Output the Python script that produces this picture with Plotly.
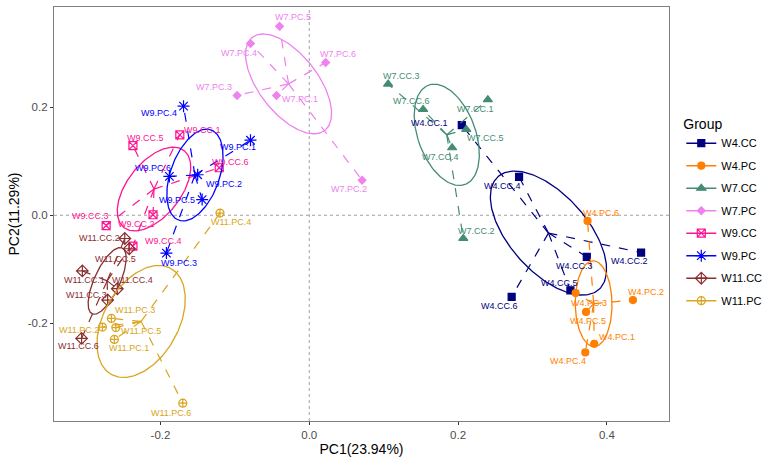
import numpy as np
import plotly.graph_objects as go

# ---------------- data ----------------
groups = ["W4.CC", "W4.PC", "W7.CC", "W7.PC", "W9.CC", "W9.PC", "W11.CC", "W11.PC"]
sample_ids = ["1", "2", "3", "4", "5", "6"]

w4cc_pc1 = [0.205, 0.446, 0.373, 0.282, 0.351, 0.272]
w4cc_pc2 = [0.167, -0.069, -0.077, 0.071, -0.139, -0.151]
w4pc_pc1 = [0.383, 0.435, 0.358, 0.371, 0.372, 0.374]
w4pc_pc2 = [-0.238, -0.157, -0.144, -0.254, -0.179, -0.0105]
w7cc_pc1 = [0.240, 0.207, 0.106, 0.192, 0.211, 0.153]
w7cc_pc2 = [0.214, -0.043, 0.243, 0.125, 0.159, 0.196]
w7pc_pc1 = [-0.044, 0.071, -0.097, -0.079, -0.040, 0.022]
w7pc_pc2 = [0.222, 0.065, 0.222, 0.318, 0.350, 0.283]
w9cc_pc1 = [-0.174, -0.210, -0.273, -0.237, -0.237, -0.121]
w9cc_pc2 = [0.149, 0.001, -0.019, -0.057, 0.129, 0.088]
w9pc_pc1 = [-0.079, -0.150, -0.192, -0.169, -0.144, -0.188]
w9pc_pc2 = [0.139, 0.075, -0.070, 0.202, 0.029, 0.072]
w11cc_pc1 = [-0.305, -0.248, -0.271, -0.258, -0.242, -0.306]
w11cc_pc2 = [-0.103, -0.043, -0.157, -0.136, -0.062, -0.228]
w11pc_pc1 = [-0.262, -0.278, -0.266, -0.120, -0.260, -0.170]
w11pc_pc2 = [-0.230, -0.207, -0.191, 0.004, -0.208, -0.348]

pc1_values = [w4cc_pc1, w4pc_pc1, w7cc_pc1, w7pc_pc1, w9cc_pc1, w9pc_pc1, w11cc_pc1, w11pc_pc1]
pc2_values = [w4cc_pc2, w4pc_pc2, w7cc_pc2, w7pc_pc2, w9cc_pc2, w9pc_pc2, w11cc_pc2, w11pc_pc2]

x_ticks = [-0.2, 0.0, 0.2, 0.4]
x_ticklabels = ["-0.2", "0.0", "0.2", "0.4"]
y_ticks = [-0.2, 0.0, 0.2]
y_ticklabels = ["-0.2", "0.0", "0.2"]

# ---------------- styles ----------------
colors = ["#000080", "#FF7F00", "#458B74", "#EE82EE", "#FF1493", "#0000FF", "#8B2E2E", "#DAA520"]
symbols = ["square", "circle", "triangle-up", "diamond", "square-x-open",
           "asterisk-open", "diamond-cross-open", "circle-cross-open"]
msizes = [7, 7, 8, 6, 8, 10, 9, 8]

# label offsets in pixels (dx right, dy down) for each sample label
label_offsets = [
    [(-32, -2), (-12, 8), (-12, 9), (-17, 9), (-11, -7), (-12, 9)],
    [(23, -7), (13, -8), (13, 10), (-17, 9), (2, 9), (13, -8)],
    [(-12, 9), (13, -7), (13, -8), (-12, 9), (19, 9), (-12, -8)],
    [(23, 4), (-13, 9), (-23, -8), (-11, 9), (13, -9), (12, -8)],
    [(23, -5), (-17, 9), (-16, -10), (31, -5), (13, -8), (11, -6)],
    [(-12, 7), (26, 9), (13, 10), (-25, 7), (-25, 0), (-16, -8)],
    [(2, 9), (-25, 0), (-21, -5), (15, -9), (-14, 10), (-3, 8)],
    [(15, 9), (-23, 3), (24, -8), (11, 9), (25, 3), (-12, 10)],
]

FONT = "Liberation Sans, Arial, Helvetica, sans-serif"

fig = go.Figure()
annotations = []

t = np.linspace(0, 2 * np.pi, 200)
for g, name in enumerate(groups):
    x = np.array(pc1_values[g])
    y = np.array(pc2_values[g])
    cx, cy = x.mean(), y.mean()
    col = colors[g]

    # spider lines (centroid -> each sample)
    sx, sy = [], []
    for xi, yi in zip(x, y):
        sx += [cx, xi, None]
        sy += [cy, yi, None]
    fig.add_trace(go.Scatter(x=sx, y=sy, mode="lines", showlegend=False, hoverinfo="skip",
                             line=dict(color=col, width=1.2, dash="dash")))

    # ellipse from population covariance (1 sd)
    cov = np.cov(np.vstack([x, y]), bias=True)
    vals, vecs = np.linalg.eigh(cov)
    circ = np.vstack([np.cos(t), np.sin(t)])
    pts = vecs @ (np.sqrt(vals)[:, None] * circ)
    fig.add_trace(go.Scatter(x=cx + pts[0], y=cy + pts[1], mode="lines", showlegend=False,
                             hoverinfo="skip", line=dict(color=col, width=1.3)))

    # points
    fig.add_trace(go.Scatter(x=x, y=y, mode="markers", showlegend=False,
                             marker=dict(symbol=symbols[g], size=msizes[g], color=col,
                                         line=dict(color=col, width=1.2))))

    # legend entry
    fig.add_trace(go.Scatter(x=[None], y=[None], mode="lines+markers", name=name,
                             legendgroup=name,
                             line=dict(color=col, width=1.5),
                             marker=dict(symbol=symbols[g], size=msizes[g], color=col,
                                         line=dict(color=col, width=1.2))))

    for i, sid in enumerate(sample_ids):
        dx, dy = label_offsets[g][i]
        annotations.append(dict(x=x[i], y=y[i], xref="x", yref="y", text=f"{name}.{sid}",
                                showarrow=False, xshift=dx, yshift=-dy,
                                font=dict(family=FONT, size=9, color=col)))

fig.update_layout(
    width=765, height=464,
    margin=dict(l=54, r=96, t=7, b=43, autoexpand=False),
    paper_bgcolor="white", plot_bgcolor="white",
    font=dict(family=FONT),
    annotations=annotations,
    shapes=[
        dict(type="line", xref="x", yref="paper", x0=0, x1=0, y0=0, y1=1,
             line=dict(color="#A0A0A0", width=1, dash="dot"), layer="below"),
        dict(type="line", xref="paper", yref="y", x0=0, x1=1, y0=0, y1=0,
             line=dict(color="#A0A0A0", width=1, dash="dot"), layer="below"),
    ],
    legend=dict(title=dict(text="Group", font=dict(size=14, color="black")),
                font=dict(size=11, color="black"),
                x=1.02, xanchor="left", y=0.75, yanchor="top",
                tracegroupgap=3.5, itemwidth=30, traceorder="grouped"),
)
fig.update_xaxes(range=[-0.3431, 0.4835], tickvals=x_ticks, ticktext=x_ticklabels,
                 showgrid=False, zeroline=False, showline=True, mirror=True, automargin=False,
                 linecolor="#808080", linewidth=1.2, ticks="outside", ticklen=3,
                 tickcolor="#333333", tickfont=dict(size=11.5, color="#4D4D4D"),
                 title=dict(text="PC1(23.94%)", font=dict(size=14, color="black"), standoff=4))
fig.update_yaxes(range=[-0.381, 0.3857], tickvals=y_ticks, ticktext=y_ticklabels,
                 showgrid=False, zeroline=False, showline=True, mirror=True, automargin=False,
                 linecolor="#808080", linewidth=1.2, ticks="outside", ticklen=3,
                 tickcolor="#333333", tickfont=dict(size=11.5, color="#4D4D4D"),
                 title=dict(text="PC2(11.29%)", font=dict(size=14, color="black"), standoff=4))

fig.write_html("out.html", config={"displayModeBar": False},
               post_script="document.body.style.margin='0';")
